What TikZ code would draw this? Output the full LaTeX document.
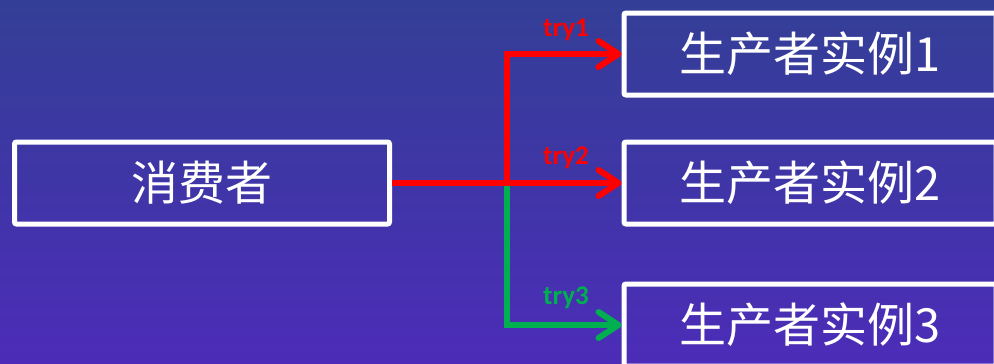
\documentclass[tikz,border=0pt]{standalone}
\usepackage{fontspec}
\newfontfamily\cjk{Noto Sans CJK SC}
\newfontfamily\tryfont{Carlito}
\usetikzlibrary{arrows.meta}
\definecolor{bgtop}{RGB}{51,63,150}
\definecolor{bgbottom}{RGB}{76,44,184}
\definecolor{tryred}{RGB}{255,0,0}
\definecolor{trygreen}{RGB}{0,176,80}

\begin{document}
\begin{tikzpicture}[x=1pt,y=-1pt,
	box/.style={draw=white,line width=5pt,rounded corners=2pt,minimum height=82pt,inner sep=0pt,text=white,font=\cjk\fontsize{47}{47}\selectfont},
	ray/.style={line width=6pt,-{Straight Barb[length=20pt,width=26pt,round]}},
	trylab/.style={font=\tryfont\bfseries\fontsize{27}{27}\selectfont}]
	% background
	\useasboundingbox (0,0) rectangle (994,364);
	\shade[top color=bgtop,bottom color=bgbottom] (0,0) rectangle (994,364);
	\clip (0,0) rectangle (994,364);
	% define coordinates
	\coordinate (fork) at (507,183);
	% boxes
	\node[box,minimum width=375pt] (consumer) at (202,183) {消费者};
	\node[box,minimum width=372pt] (inst1) at (810,54) {生产者实例1};
	\node[box,minimum width=372pt] (inst2) at (810,183) {生产者实例2};
	\node[box,minimum width=372pt] (inst3) at (810,325) {生产者实例3};
	% tries
	\draw[ray,trygreen] (fork) |- (inst3.west);
	\draw[ray,tryred] (consumer.east) -- (inst2.west);
	\draw[ray,tryred] (fork) |- (inst1.west);
	\node[trylab,text=tryred] (try1) at (566,30) {try1};
	\node[trylab,text=tryred] (try2) at (566,158) {try2};
	\node[trylab,text=trygreen] (try3) at (566,298) {try3};
\end{tikzpicture}
\end{document}
